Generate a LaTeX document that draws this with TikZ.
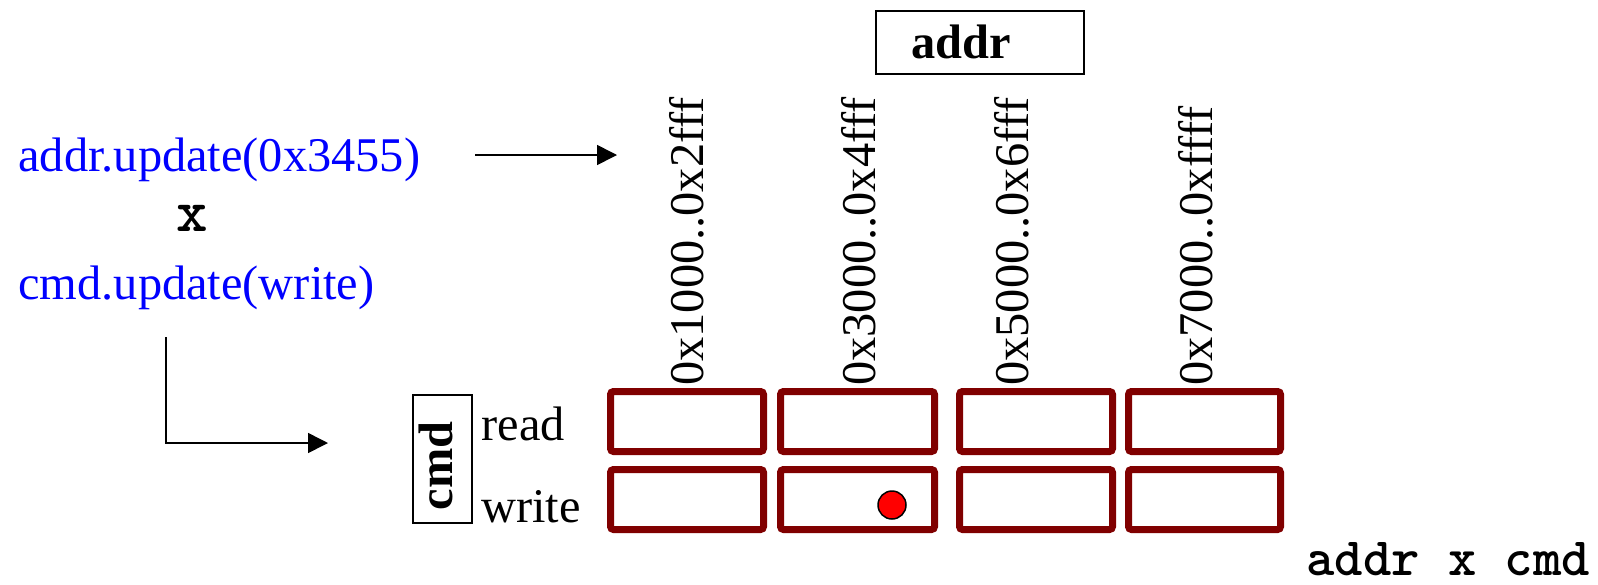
\documentclass[tikz,border=0pt]{standalone}
\usepackage{fontspec}
\setmainfont{Liberation Serif}
\usetikzlibrary{arrows.meta}
\definecolor{boxred}{RGB}{128,0,0}
\definecolor{codeblue}{RGB}{0,0,255}
\begin{document}
\begin{tikzpicture}[x=0.5pt,y=-0.5pt,
  txt/.style={inner sep=0pt, font=\fontsize{24.2}{28}\selectfont},
  bluetxt/.style={txt, text=codeblue, anchor=base west},
  lbl/.style={txt, rotate=90, anchor=base west},
  cell/.style={draw=boxred, line width=3.5pt, rounded corners=1.5pt, fill=white},
  thinbox/.style={draw=black, line width=0.75pt, inner sep=0pt},
  arr/.style={draw, line width=0.8pt, -{Triangle[length=10pt,width=10pt]}},
  mono/.style={inner sep=0pt, font=\fontsize{27}{31}\selectfont\ttfamily\bfseries},
]
\useasboundingbox (0,0) rectangle (1598,584);

% left code lines
\node[bluetxt] (upaddr) at (18,171) {addr.update(0x3455)};
\node[mono, font=\fontsize{30}{34}\selectfont\ttfamily\bfseries, anchor=base] (times) at (192.5,231) {x};
\node[bluetxt] (upcmd) at (18,299) {cmd.update(write)};

% arrows
\coordinate (a1s) at (475,155);
\coordinate (a1e) at (617,155);
\draw[arr] (a1s) -- (a1e);
\coordinate (e1) at (166,337);
\coordinate (e2) at (328,443);
\draw[arr] (e1) |- (e2);

% addr box
\node[thinbox, minimum width=104pt, minimum height=31.5pt, anchor=north west] (addrbox) at (875,10) {};
\node[txt, anchor=base, font=\fontsize{24.2}{28}\selectfont\bfseries] (addrtxt) at (961,58) {addr};

% range labels
\node[lbl] (r1) at (703,386) {0x1000..0x2fff};
\node[lbl] (r2) at (875,386) {0x3000..0x4fff};
\node[lbl] (r3) at (1028,386) {0x5000..0x6fff};
\node[lbl] (r4) at (1212,386) {0x7000..0xffff};

% cells
\foreach \xa/\xb in {610.5/763.5, 780.5/934.5, 959.5/1112.5, 1128.5/1280.5} {
  \draw[cell] (\xa,391.5) rectangle (\xb,451.5);
  \draw[cell] (\xa,469.5) rectangle (\xb,529.5);
}

% hit
\node[circle, fill=red, draw=black, line width=0.75pt, minimum size=14pt, inner sep=0pt] (dot) at (892,505) {};

% cmd box
\node[thinbox, minimum width=29.5pt, minimum height=64pt, anchor=north west] (cmdbox) at (412,394) {};
\node[txt, rotate=90, anchor=base, font=\fontsize{24.2}{28}\selectfont\bfseries] (cmdtxt) at (452,466) {cmd};
\node[txt, anchor=base west] (rd) at (481,440) {read};
\node[txt, anchor=base west] (wr) at (481,522) {write};

% cross product label
\node[mono, anchor=base west] (cross) at (1306,575) {addr x cmd};
\end{tikzpicture}
\end{document}
